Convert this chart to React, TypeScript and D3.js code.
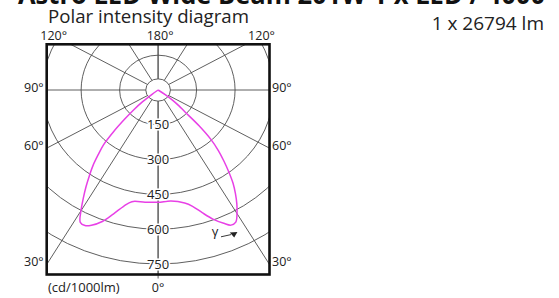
import * as d3 from 'd3';

// gamma angles (deg) and luminous intensity (cd/1000lm)
const GAMMA = [0, 6, 12, 15, 18, 21, 24, 26, 28, 30, 32, 34, 36, 38, 40, 42, 44, 46, 48, 50, 52, 54, 56];
const CD_LEFT = [484, 486, 492, 519, 561, 607, 638, 650, 646, 601, 550, 502, 455, 411, 362, 318, 250, 182, 130, 80, 30, 0, 0];
const CD_RIGHT = [484, 481, 498, 519, 556, 596, 629, 648, 645, 615, 579, 539, 497, 447, 398, 351, 296, 222, 140, 105, 71, 36, 0];

const RINGS = [150, 300, 450, 600, 750];
const HUB = 48;
const SPOKES = [0, 30, 60, 90, 120, 150, 180];
const SIDE_TICKS = [90, 60, 30];
const TOP_TICKS = ['120°', '180°', '120°'];

const TITLE = 'Astro LED Wide Beam 201W 1 x LED / 4000';
const SUBTITLE = 'Polar intensity diagram';
const FLUX = '1 x 26794 lm';
const UNIT = '(cd/1000lm)';

const W = 559;
const H = 298;
const BOX = { x0: 46.7, y0: 44.3, x1: 269.5, y1: 274.5 };
const CX = (BOX.x0 + BOX.x1) / 2;
const CY = 90;
const STRETCH = 1.106;

const GRID = '#4d4d4d';
const INK = '#222';
const PINK = '#e840e6';
const FONT = '"Open Sans", "DejaVu Sans", sans-serif';

const ry = d3.scaleLinear().domain([0, 750]).range([0, 174]);
const rx = d3.scaleLinear().domain([0, 750]).range([0, 174 * STRETCH]);
const rad = (g: number) => (g * Math.PI) / 180;

const pt = (g: number, v: number, side: number): [number, number] => [
  CX + side * rx(v) * Math.sin(rad(g)),
  CY + ry(v) * Math.cos(rad(g)),
];

// where a spoke leaves the side of the box
const sideExit = (g: number) => {
  const v = rx.invert((BOX.x1 - CX) / Math.sin(rad(g)));
  return CY + ry(v) * Math.cos(rad(g));
};

export default function App() {
  const left = GAMMA.map((g, i) => ({ g, v: CD_LEFT[i], s: -1 }))
    .filter((d, i) => i === 0 || CD_LEFT[i - 1] > 0)
    .reverse();
  const right = GAMMA.map((g, i) => ({ g, v: CD_RIGHT[i], s: 1 }))
    .filter((d, i) => i > 0 && CD_RIGHT[i - 1] > 0);
  const pts = [...left, ...right].map((d) => pt(d.g, d.v, d.s));
  const curve = d3.line().curve(d3.curveCatmullRom.alpha(0.5))(pts) ?? '';

  return (
    <svg
      width={W}
      height={H}
      style={{ position: 'absolute', left: 0, top: 0, background: '#fff' }}
      fontFamily={FONT}
    >
      <defs>
        <clipPath id="box">
          <rect x={BOX.x0} y={BOX.y0} width={BOX.x1 - BOX.x0} height={BOX.y1 - BOX.y0} />
        </clipPath>
      </defs>
      <rect width={W} height={H} fill="#fff" />

      <text x={18} y={4} fontSize={26} fontWeight="bold" fill="#111" textLength={527} lengthAdjust="spacingAndGlyphs">
        {TITLE}
      </text>
      <text x={48} y={22.5} fontSize={19} fill={INK} textLength={201} lengthAdjust="spacingAndGlyphs">
        {SUBTITLE}
      </text>
      <text x={544} y={29.5} fontSize={19} fill={INK} textAnchor="end">{FLUX}</text>

      <g clipPath="url(#box)" fill="none" stroke={GRID} strokeWidth={0.9}>
        {[HUB, ...RINGS].map((v) => (
          <ellipse key={v} cx={CX} cy={CY} rx={rx(v)} ry={ry(v)} />
        ))}
        {SPOKES.flatMap((g) =>
          [-1, 1].map((s) => {
            const [x1, y1] = pt(g, HUB, s);
            const [x2, y2] = pt(g, 2000, s);
            return <line key={`${g}${s}`} x1={x1} y1={y1} x2={x2} y2={y2} />;
          })
        )}
      </g>
      <line x1={CX} x2={CX} y1={BOX.y1} y2={BOX.y1 + 4} stroke={GRID} strokeWidth={0.9} />

      <path d={curve} fill="none" stroke={PINK} strokeWidth={1.5} />

      {RINGS.map((v) => (
        <text
          key={v}
          x={CX}
          y={CY + ry(v)}
          dy="0.36em"
          textAnchor="middle"
          fontSize={13}
          fill={INK}
          stroke="#fff"
          strokeWidth={3}
          paintOrder="stroke"
        >
          {v}
        </text>
      ))}

      <text x={215} y={236} fontSize={13} fill={INK} textAnchor="middle">γ</text>
      <path d="M221,236.8 L231,234.6" stroke={INK} strokeWidth={0.9} />
      <path d="M229.8,232.6 L237.4,232 L234.2,237.4 Z" fill={INK} />

      <rect
        x={BOX.x0}
        y={BOX.y0}
        width={BOX.x1 - BOX.x0}
        height={BOX.y1 - BOX.y0}
        fill="none"
        stroke="#111"
        strokeWidth={2.6}
      />

      <g fontSize={12.5} fill={INK}>
        <text x={BOX.x0 + 7} y={BOX.y0 - 4.5} textAnchor="middle">{TOP_TICKS[0]}</text>
        <text x={CX + 2} y={BOX.y0 - 4.5} textAnchor="middle">{TOP_TICKS[1]}</text>
        <text x={BOX.x1 - 8} y={BOX.y0 - 4.5} textAnchor="middle">{TOP_TICKS[2]}</text>
        {SIDE_TICKS.map((g) => {
          const y = sideExit(g) + 1.5;
          return (
            <g key={g}>
              <text x={BOX.x0 - 3} y={y} textAnchor="end">{`${g}°`}</text>
              <text x={BOX.x1 + 2.5} y={y}>{`${g}°`}</text>
            </g>
          );
        })}
        <text x={CX} y={292} textAnchor="middle">0°</text>
        <text x={48} y={292} fontSize={13}>{UNIT}</text>
      </g>
    </svg>
  );
}
